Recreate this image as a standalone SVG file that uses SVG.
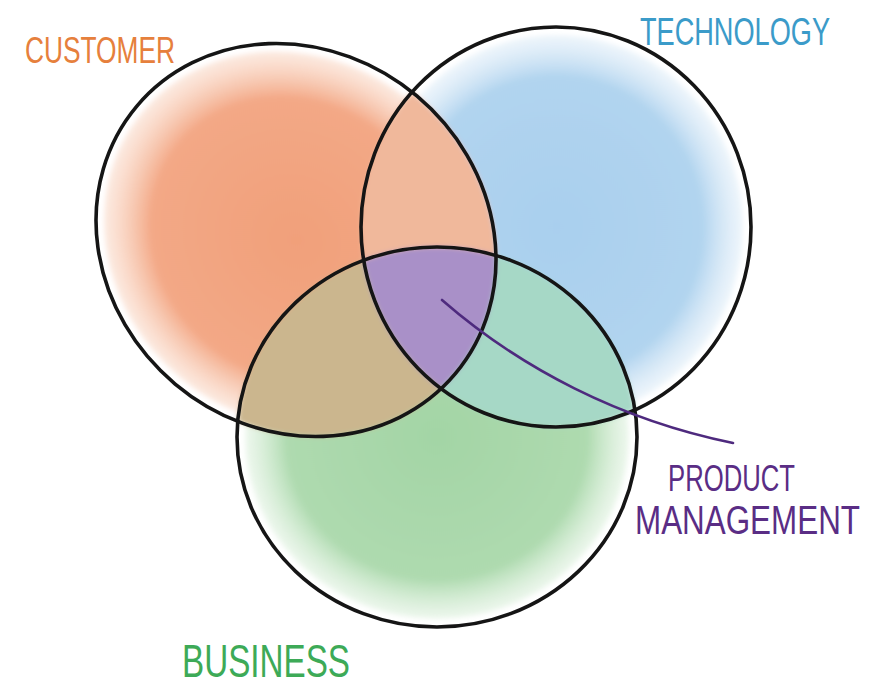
<svg xmlns="http://www.w3.org/2000/svg" width="876" height="686" viewBox="0 0 876 686">
<defs>
<style>
.outline{fill:none;stroke:#151515;stroke-width:3.6;}
.lbl{font-family:"Liberation Sans","DejaVu Sans",sans-serif;font-weight:normal;}
.conn{fill:none;stroke:#4E2A7E;stroke-width:2.6;stroke-linecap:round;}
</style>
<radialGradient id="gC"><stop offset="0" stop-color="#F1A07A"/><stop offset="0.75" stop-color="#F3A886"/><stop offset="1" stop-color="#F8CDB6" stop-opacity="0.4"/></radialGradient>
<radialGradient id="gT"><stop offset="0" stop-color="#A9CFEE"/><stop offset="0.78" stop-color="#B1D4EF"/><stop offset="1" stop-color="#D6E8F6" stop-opacity="0.4"/></radialGradient>
<radialGradient id="gB"><stop offset="0" stop-color="#A3D5A5"/><stop offset="0.78" stop-color="#AEDAAF"/><stop offset="1" stop-color="#D3ECD3" stop-opacity="0.4"/></radialGradient>
<clipPath id="kC"><ellipse cx="296" cy="240" rx="208" ry="188" transform="rotate(40 296 240)"/></clipPath>
<clipPath id="kT"><ellipse cx="556" cy="227" rx="195" ry="200"/></clipPath>
<clipPath id="kB"><ellipse cx="437" cy="437" rx="200" ry="190"/></clipPath>
<filter id="soft" x="-5%" y="-5%" width="110%" height="110%"><feGaussianBlur stdDeviation="2.5"/></filter>
</defs>
<rect width="876" height="686" fill="#ffffff"/>

<g id="fills" filter="url(#soft)">
  <ellipse cx="296" cy="240" rx="200" ry="180" transform="rotate(40 296 240)" fill="url(#gC)"/>
  <ellipse cx="556" cy="227" rx="187" ry="192" fill="url(#gT)"/>
  <ellipse cx="437" cy="437" rx="192" ry="182" fill="url(#gB)"/>
  <g clip-path="url(#kC)"><rect x="0" y="0" width="876" height="686" fill="#F0B89B" clip-path="url(#kT)"/></g>
  <g clip-path="url(#kC)"><rect x="0" y="0" width="876" height="686" fill="#CBB68E" clip-path="url(#kB)"/></g>
  <g clip-path="url(#kT)"><rect x="0" y="0" width="876" height="686" fill="#A6D8C6" clip-path="url(#kB)"/></g>
  <g clip-path="url(#kC)"><g clip-path="url(#kT)"><rect x="0" y="0" width="876" height="686" fill="#A990C8" clip-path="url(#kB)"/></g></g>
</g>

<g id="customer">
  <ellipse class="outline" cx="296" cy="240" rx="208" ry="188" transform="rotate(40 296 240)"/>
  <text class="lbl" transform="translate(25,63) scale(1,1.45)" x="0" y="0" font-size="26" textLength="150" lengthAdjust="spacingAndGlyphs" fill="#E6803C">CUSTOMER</text>
</g>
<g id="technology">
  <ellipse class="outline" cx="556" cy="227" rx="195" ry="200"/>
  <text class="lbl" transform="translate(640,45) scale(1,1.42)" x="0" y="0" font-size="27" textLength="190" lengthAdjust="spacingAndGlyphs" fill="#3B9BC9">TECHNOLOGY</text>
</g>
<g id="business">
  <ellipse class="outline" cx="437" cy="437" rx="200" ry="190"/>
  <text class="lbl" transform="translate(182,677) scale(1,1.38)" x="0" y="0" font-size="33" textLength="168" lengthAdjust="spacingAndGlyphs" fill="#3DAA57">BUSINESS</text>
</g>
<g id="product-management">
  <text class="lbl" transform="translate(668,491) scale(1,1.45)" x="0" y="0" font-size="25.5" textLength="127" lengthAdjust="spacingAndGlyphs" fill="#5A2D85">PRODUCT</text>
  <text class="lbl" transform="translate(635,534) scale(1,1.33)" x="0" y="0" font-size="31" textLength="225" lengthAdjust="spacingAndGlyphs" fill="#5A2D85">MANAGEMENT</text>
</g>

<g id="connectors">
  <path class="conn" d="M442,300 C520,368 620,420 733,443"/>
</g>
</svg>
